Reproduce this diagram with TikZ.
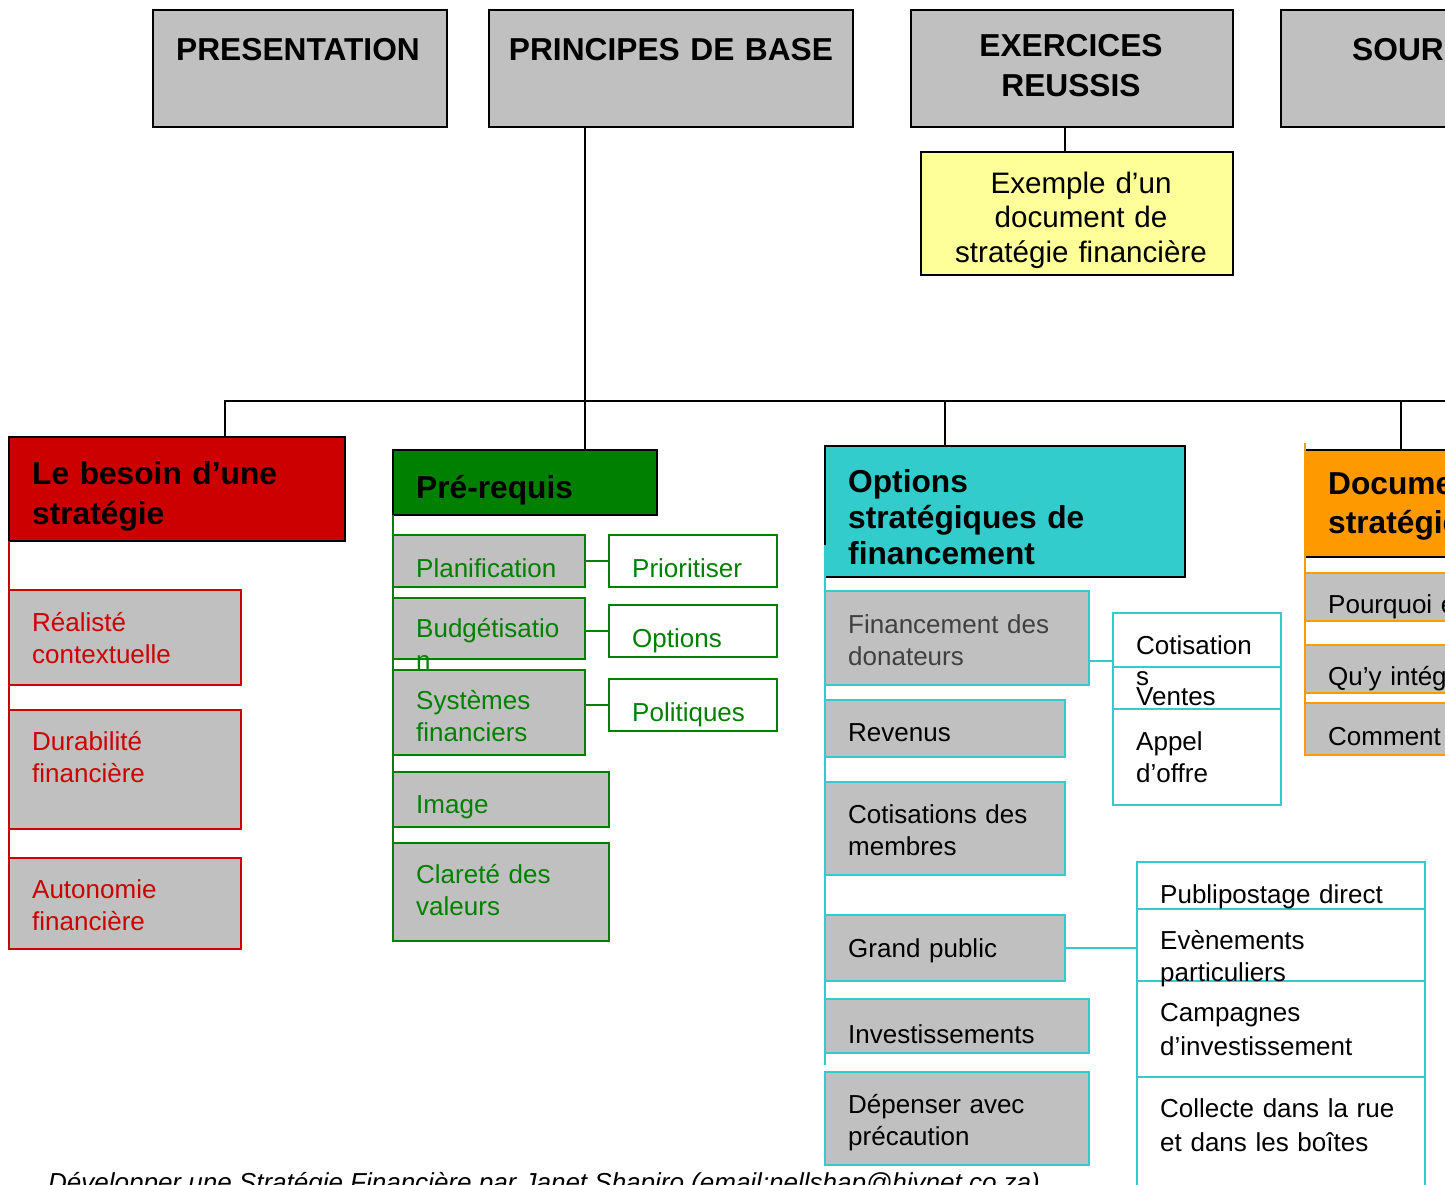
\documentclass[tikz,border=0pt]{standalone}
\usepackage{fontspec}
\setmainfont{Liberation Sans}
\usepackage{tikz}

\definecolor{boxgray}{HTML}{C0C0C0}
\definecolor{redhead}{HTML}{CC0000}
\definecolor{greenhead}{HTML}{008000}
\definecolor{cyanhead}{HTML}{33CCCC}
\definecolor{orangehead}{HTML}{FF9900}
\definecolor{paleyellow}{HTML}{FFFF99}
\definecolor{greytext}{HTML}{404040}

\begin{document}
\begin{tikzpicture}[x=1pt,y=-1pt,
  box/.style={draw, line width=1.6pt, inner sep=0pt, outer sep=0pt, anchor=north west},
  topbox/.style={box, fill=boxgray},
  redsub/.style={box, draw=redhead, fill=boxgray},
  greensub/.style={box, draw=greenhead, fill=boxgray},
  greenside/.style={box, draw=greenhead, fill=white},
  cyansub/.style={box, draw=cyanhead, fill=boxgray},
  cyanside/.style={box, draw=cyanhead, fill=white},
  orangesub/.style={box, draw=orangehead, fill=boxgray},
  toptxt/.style={font=\fontsize{31.7}{40}\selectfont\bfseries, inner sep=0pt, anchor=base, text width=330pt, align=center},
  hdtxt/.style={font=\fontsize{31.7}{#1}\selectfont\bfseries, inner sep=0pt, anchor=base west, text width=400pt, align=left},
  hdtxt/.default=38,
  txt/.style={font=\fontsize{26}{#1}\selectfont, inner sep=0pt, anchor=base west, text width=320pt, align=left},
  txt/.default=32,
  link/.style={line width=1.6pt}
]
\path[use as bounding box] (0,0) rectangle (1445,1184);
\clip (0,0) rectangle (1445,1184);

% Top row
\node[topbox, minimum width=294pt, minimum height=117pt] (pres) at (153,10) {};
\node[topbox, minimum width=364pt, minimum height=117pt] (princ) at (489,10) {};
\node[topbox, minimum width=322pt, minimum height=117pt] (exer) at (911,10) {};
\node[topbox, minimum width=320pt, minimum height=117pt] (sour) at (1281,10) {};
\node[box, fill=paleyellow, minimum width=312pt, minimum height=123pt] (exemple) at (921,152) {};

\node[toptxt] (presT) at (298,60) {PRESENTATION};
\node[toptxt] (princT) at (671,60) {PRINCIPES DE BASE};
\node[toptxt] (exerT) at (1071,56) {EXERCICES\\REUSSIS};
\node[toptxt, anchor=base west, align=left] (sourT) at (1352,60) {SOURCES};
\node[font=\fontsize{29.6}{34.5}\selectfont, inner sep=0pt, anchor=base, text width=320pt, align=center] (exempleT) at (1081,193) {Exemple d’un\\document de\\stratégie financière};

% Le besoin
\node[box, fill=redhead, minimum width=336pt, minimum height=104pt] (besoin) at (9,437) {};
\node[redsub, minimum width=232pt, minimum height=95pt] (real) at (9,590) {};
\node[redsub, minimum width=232pt, minimum height=119pt] (dura) at (9,710) {};
\node[redsub, minimum width=232pt, minimum height=91pt] (auto) at (9,858) {};
\draw[link, draw=redhead] (besoin.south west) -- (auto.south west);

\node[hdtxt=40] (besoinT) at (32,484) {Le besoin d’une\\stratégie};
\node[txt, text=redhead] (realT) at (32,631) {Réalisté\\contextuelle};
\node[txt, text=redhead] (duraT) at (32,750) {Durabilité\\financière};
\node[txt, text=redhead] (autoT) at (32,898) {Autonomie\\financière};

% Pre-requis
\node[box, fill=greenhead, minimum width=264pt, minimum height=65pt] (prereq) at (393,450) {};
\node[greensub, minimum width=192pt, minimum height=52pt] (plan) at (393,535) {};
\node[greensub, minimum width=192pt, minimum height=61pt] (budget) at (393,598) {};
\node[greensub, minimum width=192pt, minimum height=85pt] (systm) at (393,670) {};
\node[greensub, minimum width=216pt, minimum height=55pt] (image) at (393,772) {};
\node[greensub, minimum width=216pt, minimum height=98pt] (clarte) at (393,843) {};
\node[greenside, minimum width=168pt, minimum height=52pt] (prio) at (609,535) {};
\node[greenside, minimum width=168pt, minimum height=52pt] (optn) at (609,605) {};
\node[greenside, minimum width=168pt, minimum height=52pt] (polit) at (609,679) {};
\draw[link, draw=greenhead] (prereq.south west) -- (clarte.south west);
\draw[link, draw=greenhead] (plan.east) -- (plan.east -| prio.west);
\draw[link, draw=greenhead] (optn.west) -- (optn.west -| budget.east);
\draw[link, draw=greenhead] (polit.west) -- (polit.west -| systm.east);

\node[hdtxt] (prereqT) at (416,498) {Pré-requis};
\node[txt, text=greenhead] (planT) at (416,577) {Planification};
\node[txt, text=greenhead] (budgetT) at (416,637) {Budgétisatio\\n};
\node[txt, text=greenhead] (systmT) at (416,709) {Systèmes\\financiers};
\node[txt, text=greenhead] (imageT) at (416,813) {Image};
\node[txt, text=greenhead] (clarteT) at (416,883) {Clareté des\\valeurs};
\node[txt, text=greenhead] (prioT) at (632,577) {Prioritiser};
\node[txt, text=greenhead] (optnT) at (632,647) {Options};
\node[txt, text=greenhead] (politT) at (632,721) {Politiques};

% Options strategiques
\node[box, fill=cyanhead, minimum width=360pt, minimum height=131pt] (optfin) at (825,446) {};
\node[cyansub, minimum width=264pt, minimum height=94pt] (donat) at (825,591) {};
\node[cyansub, minimum width=240pt, minimum height=57pt] (reven) at (825,700) {};
\node[cyansub, minimum width=240pt, minimum height=93pt] (cotmem) at (825,782) {};
\node[cyansub, minimum width=240pt, minimum height=66pt] (grand) at (825,915) {};
\node[cyansub, minimum width=264pt, minimum height=54pt] (invest) at (825,999) {};
\node[cyansub, minimum width=264pt, minimum height=93pt] (depens) at (825,1072) {};
\node[cyanside, minimum width=168pt, minimum height=54pt] (cotis) at (1113,613) {};
\node[cyanside, minimum width=168pt, minimum height=42pt] (ventes) at (1113,667) {};
\node[cyanside, minimum width=168pt, minimum height=96pt] (appel) at (1113,709) {};
\node[cyanside, minimum width=288pt, minimum height=47pt] (publi) at (1137,862) {};
\node[cyanside, minimum width=288pt, minimum height=72pt] (evene) at (1137,909) {};
\node[cyanside, minimum width=288pt, minimum height=96pt] (campa) at (1137,981) {};
\node[cyanside, minimum width=288pt, minimum height=153pt] (colle) at (1137,1077) {};
\coordinate (cyTop) at (825,545);
\coordinate (cyBot) at (825,1065);
\draw[link, draw=cyanhead] (cyTop) -- (cyBot);
\draw[link, draw=cyanhead] ([yshift=-23pt]donat.east) -- ([yshift=-23pt]donat.east -| cotis.west);
\draw[link, draw=cyanhead] (grand.east) -- (grand.east -| evene.west);

\node[hdtxt=36] (optfinT) at (848,492) {Options\\stratégiques de\\financement};
\node[txt, text=greytext] (donatT) at (848,633) {Financement des\\donateurs};
\node[txt] (revenT) at (848,741) {Revenus};
\node[txt] (cotmemT) at (848,823) {Cotisations des\\membres};
\node[txt] (grandT) at (848,957) {Grand public};
\node[txt] (investT) at (848,1043) {Investissements};
\node[txt] (depensT) at (848,1113) {Dépenser avec\\précaution};
\node[txt=31] (cotisT) at (1136,654) {Cotisation\\s};
\node[txt] (ventesT) at (1136,705) {Ventes};
\node[txt] (appelT) at (1136,750) {Appel\\d’offre};
\node[txt] (publiT) at (1160,903) {Publipostage direct};
\node[txt] (eveneT) at (1160,949) {Evènements\\particuliers};
\node[txt=34] (campaT) at (1160,1021) {Campagnes\\d’investissement};
\node[txt=34] (colleT) at (1160,1117) {Collecte dans la rue\\et dans les boîtes};

% Document de strategie
\node[box, fill=orangehead, minimum width=300pt, minimum height=107pt] (docu) at (1305,450) {};
\node[orangesub, minimum width=300pt, minimum height=48pt] (pourq) at (1305,573) {};
\node[orangesub, minimum width=300pt, minimum height=48pt] (quy) at (1305,645) {};
\node[orangesub, minimum width=300pt, minimum height=52pt] (comm) at (1305,703) {};
\coordinate (orTop) at (1305,443);
\draw[link, draw=orangehead] (orTop) -- (comm.south west);

\node[hdtxt=39] (docuT) at (1328,494) {Document de\\stratégie financière};
\node[txt] (pourqT) at (1328,613) {Pourquoi en avoir un ?};
\node[txt] (quyT) at (1328,685) {Qu’y intégrer ?};
\node[txt] (commT) at (1328,745) {Comment le rédiger ?};

% Connectors
\coordinate (bL) at (225,401);
\coordinate (bP) at (585,401);
\coordinate (bC) at (945,401);
\coordinate (bO) at (1401,401);
\coordinate (bR) at (1460,401);
\coordinate (exJ) at (1065,140);
\draw[link] (besoin.north -| bL) -- (bL) -- (bR);
\draw[link] (princ.south -| bP) -- (prereq.north -| bP);
\draw[link] (bC) -- (optfin.north -| bC);
\draw[link] (bO) -- (docu.north -| bO);
\draw[link] (exer.south -| exJ) -- (exemple.north -| exJ);

% Footer
\node[font=\fontsize{26}{32}\selectfont\itshape, inner sep=0pt, anchor=base west] (footer) at (48,1191) {Développer une Stratégie Financière par Janet Shapiro (email:nellshap@hivnet.co.za)};
\end{tikzpicture}
\end{document}
